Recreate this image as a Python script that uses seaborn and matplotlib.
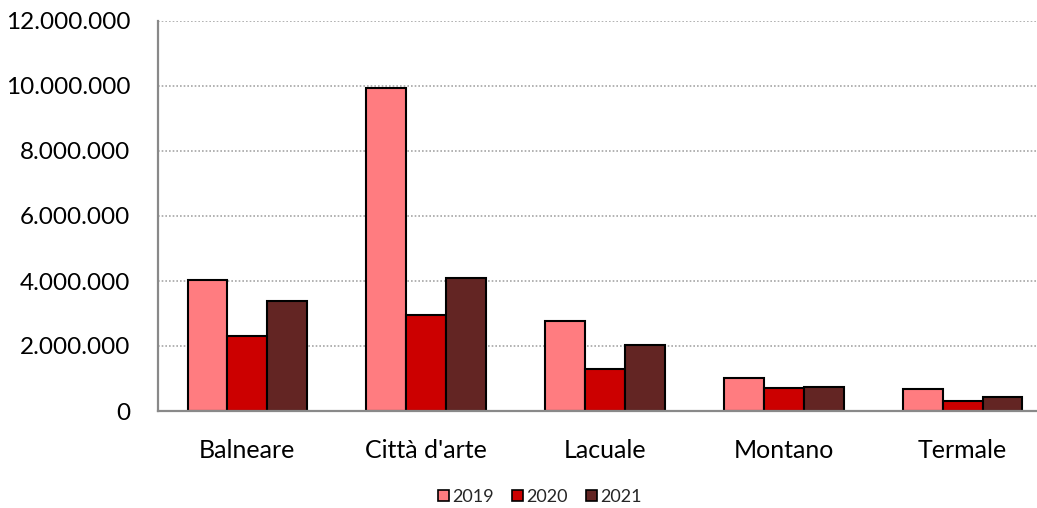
import matplotlib
matplotlib.use("Agg")
import matplotlib.pyplot as plt
import seaborn as sns
import pandas as pd
from matplotlib.ticker import FuncFormatter, MultipleLocator

categories = ["Balneare", "Città d'arte", "Lacuale", "Montano", "Termale"]
years = ["2019", "2020", "2021"]
v2019 = [4030000, 9940000, 2770000, 1020000, 680000]
v2020 = [2310000, 2950000, 1290000, 710000, 310000]
v2021 = [3380000, 4090000, 2030000, 740000, 430000]
colors = ["#FF7C80", "#CC0000", "#632523"]

rows = []
for c, a, b, d in zip(categories, v2019, v2020, v2021):
    rows.append((c, years[0], a))
    rows.append((c, years[1], b))
    rows.append((c, years[2], d))
df = pd.DataFrame(rows, columns=["cat", "year", "val"])

sns.set_style("white")
plt.rcParams['font.family'] = ['Lato', 'DejaVu Sans']

fig = plt.figure(figsize=(10.37, 5.08), dpi=100)
ax = fig.add_axes([158/1037, 97/508, (1037-158)/1037, (411-21)/508])

sns.barplot(data=df, x="cat", y="val", hue="year", palette=colors,
            width=0.67, edgecolor="black", linewidth=1.5, ax=ax,
            saturation=1, legend=True, errorbar=None)

ax.set_xlim(-0.5, 4.5 - (1052-1037)/179)
ax.set_ylim(0, 12000000)
ax.yaxis.set_major_locator(MultipleLocator(2000000))
ax.yaxis.set_major_formatter(FuncFormatter(lambda v, p: f"{int(v):,}".replace(",", ".")))
ax.grid(axis="y", color="#A6A6A6", linestyle=(0, (1, 1.2)), linewidth=1.2)
ax.set_axisbelow(True)
ax.set_xlabel("")
ax.set_ylabel("")
for s in ["top", "right"]:
    ax.spines[s].set_visible(False)
for s in ["left", "bottom"]:
    ax.spines[s].set_color("#898989")
    ax.spines[s].set_linewidth(1.6)
ax.tick_params(axis="both", length=0, colors="black")
ax.tick_params(axis="y", pad=20, labelsize=17.5)
ax.tick_params(axis="x", pad=20, labelsize=18)

leg = ax.legend(loc="center", bbox_to_anchor=(540/1037, (508-497)/508),
                bbox_transform=fig.transFigure, ncol=3, frameon=False,
                fontsize=13, handlelength=0.6, handleheight=0.6,
                handletextpad=0.2, columnspacing=1.0)
for h in leg.legend_handles:
    h.set_edgecolor("black")
    h.set_linewidth(1.2)

fig.savefig("out.png", dpi=100)
